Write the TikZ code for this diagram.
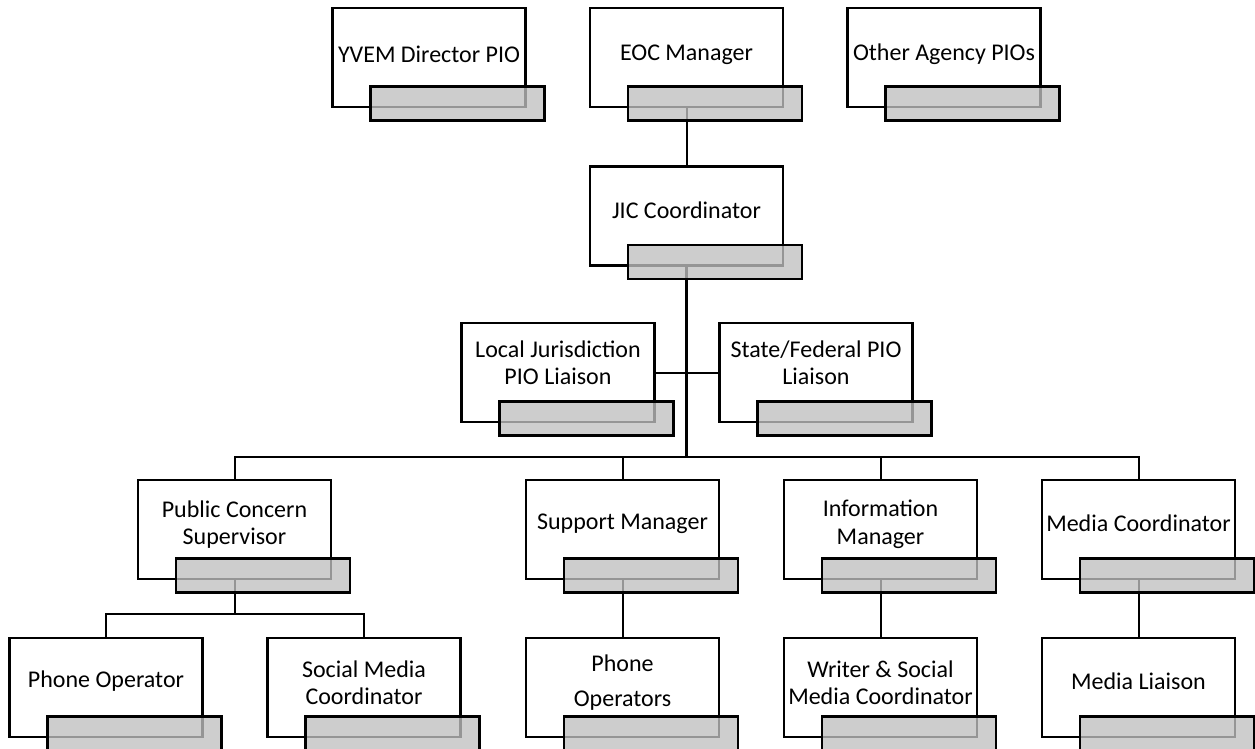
\documentclass[tikz,border=0pt]{standalone}
\usepackage{fontspec}
\setmainfont{Carlito}
\usetikzlibrary{calc}
\definecolor{shade}{RGB}{192,192,192}
\tikzset{
  wbox/.style={draw=black, line width=2.6pt, fill=white, minimum width=193pt, minimum height=99pt, inner sep=0pt},
  gbox/.style={draw=black, line width=2.6pt, fill=shade, fill opacity=0.78, minimum width=174pt, minimum height=34pt, inner sep=0pt},
  lbl/.style={align=center, font=\fontsize{24}{27.5}\selectfont, inner sep=0pt, text=black},
  conn/.style={draw=black, line width=2pt},
  trunk/.style={draw=black, line width=3.4pt},
}
\begin{document}
\begin{tikzpicture}[x=1pt,y=-1pt]
\useasboundingbox (0,0) rectangle (1255,748);
% white boxes
\node[wbox] (yvem) at (429,57.5) {};
\node[wbox] (eoc) at (686.5,57.5) {};
\node[wbox] (other) at (944,57.5) {};
\node[wbox] (jic) at (686.5,216) {};
\node[wbox] (local) at (558,372.5) {};
\node[wbox] (state) at (816,372.5) {};
\node[wbox] (pcs) at (234.5,529.5) {};
\node[wbox] (support) at (622.5,529.5) {};
\node[wbox] (info) at (880.5,529.5) {};
\node[wbox] (media) at (1138.5,529.5) {};
\node[wbox] (phoneop) at (106,687.5) {};
\node[wbox] (social) at (364,687.5) {};
\node[wbox] (phoneops) at (622.5,687.5) {};
\node[wbox] (writer) at (880.5,687.5) {};
\node[wbox] (liaison) at (1138.5,687.5) {};
% labels
\node[lbl] (yvemt) at ($(yvem)+(0,-3)$) {YVEM Director PIO};
\node[lbl] (eoct) at ($(eoc)+(0,-3)$) {EOC Manager};
\node[lbl] (othert) at ($(other)+(0,-3)$) {Other Agency PIOs};
\node[lbl] (jict) at ($(jic)+(0,-6)$) {JIC Coordinator};
\node[lbl] (localt) at ($(local)+(0,-10)$) {Local Jurisdiction\\PIO Liaison};
\node[lbl] (statet) at ($(state)+(0,-10)$) {State/Federal PIO\\Liaison};
\node[lbl] (pcst) at ($(pcs)+(0,-5)$) {Public Concern\\Supervisor};
\node[lbl] (supportt) at ($(support)+(0,-6)$) {Support Manager};
\node[lbl] (infot) at ($(info)+(0,-5)$) {Information\\Manager};
\node[lbl] (mediat) at ($(media)+(0,-6)$) {Media Coordinator};
\node[lbl] (phoneopt) at ($(phoneop)+(0,-6)$) {Phone Operator};
\node[lbl] (socialt) at ($(social)+(0,-5)$) {Social Media\\Coordinator};
\node[lbl] (phoneopst) at ($(phoneops)+(0,-5)$) {Phone\\[7pt]Operators};
\node[lbl] (writert) at ($(writer)+(0,-5)$) {Writer \& Social\\Media Coordinator};
\node[lbl] (liaisont) at ($(liaison)+(0,-6)$) {Media Liaison};
% connectors
\coordinate (bus) at (686.5,457);
\coordinate (pcsbus) at (234.5,614);
\draw[conn] (eoc.south) -- (jic.north);
\draw[trunk] (jic.south) -- (bus);
\draw[conn] (local.east) -- (state.west);
\draw[conn] (pcs.north) |- (bus) -| (media.north);
\draw[conn] (support.north) -- (support.north |- bus);
\draw[conn] (info.north) -- (info.north |- bus);
\draw[conn] (pcs.south) -- (pcsbus);
\draw[conn] (phoneop.north) |- (pcsbus) -| (social.north);
\draw[conn] (support.south) -- (phoneops.north);
\draw[conn] (info.south) -- (writer.north);
\draw[conn] (media.south) -- (liaison.north);
% gray tabs
\foreach \n in {yvem,eoc,other,jic,local,state,pcs,support,info,media,phoneop,social,phoneops,writer,liaison}
  \node[gbox] (\n g) at ($(\n.south)+(28.5,-5)$) {};
\end{tikzpicture}
\end{document}
